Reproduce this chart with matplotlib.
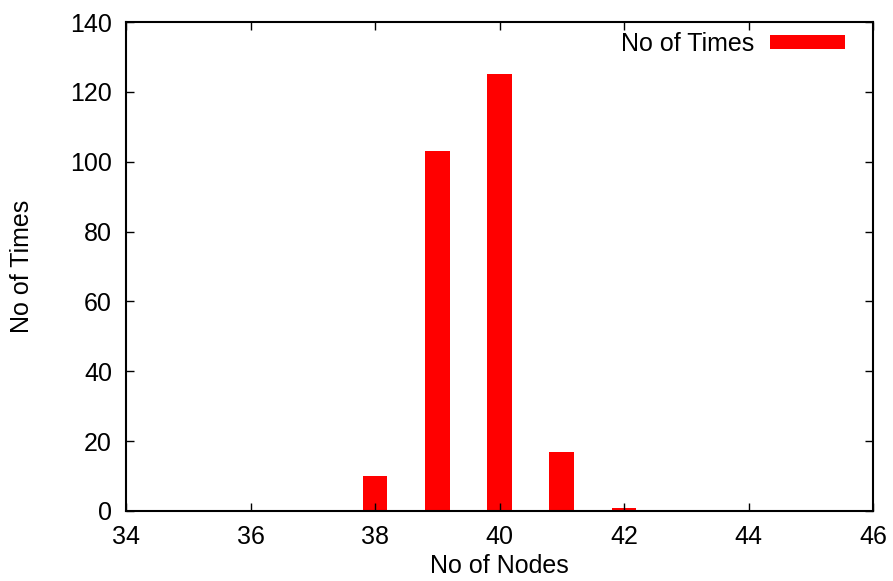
import matplotlib.pyplot as plt

plt.rcParams['font.family'] = ['Liberation Sans', 'DejaVu Sans']

nodes = [38, 39, 40, 41, 42]
times = [10, 103, 125, 17, 1]
xticks = [34, 36, 38, 40, 42, 44, 46]
yticks = [0, 20, 40, 60, 80, 100, 120, 140]

fig = plt.figure(figsize=(8.93, 5.81), dpi=100)
ax = fig.add_axes([126 / 893, 70 / 581, 747 / 893, 489 / 581])

ax.bar(nodes, times, width=0.4, color='#ff0000', label='No of Times')

ax.set_xlim(34, 46)
ax.set_ylim(0, 140)
ax.set_xticks(xticks)
ax.set_yticks(yticks)
ax.tick_params(direction='in', top=True, right=True, length=6, width=1,
               labelsize=18, pad=10)
for s in ax.spines.values():
    s.set_linewidth(1.5)

ax.set_xlabel('No of Nodes', fontsize=18, labelpad=4)
ax.set_ylabel('No of Times', fontsize=18, labelpad=26)

ax.legend(loc='upper right', frameon=False, markerfirst=False, fontsize=18,
          handlelength=3.0, handleheight=0.5, handletextpad=0.6,
          borderaxespad=0.2, bbox_to_anchor=(0.982, 1.01))

fig.savefig('out.png', dpi=100)
